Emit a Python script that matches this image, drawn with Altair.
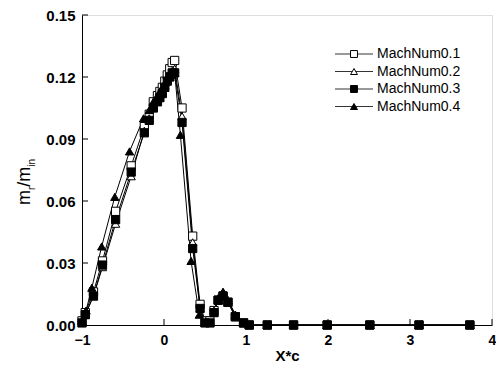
import altair as alt
import pandas as pd

series_names = ["MachNum0.1", "MachNum0.2", "MachNum0.3", "MachNum0.4"]

tail_x = [1.04, 1.26, 1.58, 1.99, 2.51, 3.11, 3.73]
tail_y = [0.0, 0.0, 0.0, 0.0, 0.0, 0.0, 0.0]

x_a = [-1.0, -0.96, -0.86, -0.75, -0.59, -0.40, -0.24, -0.18, -0.13, -0.08, -0.05, -0.02,
       0.01, 0.04, 0.07, 0.10, 0.13, 0.22, 0.35, 0.44, 0.50, 0.56, 0.61, 0.66, 0.72, 0.78,
       0.87, 0.97]
x_b = [-1.0, -0.95, -0.88, -0.76, -0.60, -0.42, -0.25, -0.18, -0.13, -0.08, -0.05, -0.02,
       0.01, 0.04, 0.07, 0.10, 0.13, 0.20, 0.33, 0.43, 0.50, 0.56, 0.61, 0.66, 0.72, 0.78,
       0.87, 0.97]

y1 = [0.002, 0.006, 0.016, 0.031, 0.055, 0.077, 0.096, 0.102, 0.108, 0.111, 0.113, 0.115,
      0.118, 0.121, 0.124, 0.127, 0.128, 0.105, 0.043, 0.010, 0.002, 0.002, 0.007, 0.012,
      0.014, 0.011, 0.004, 0.001]
y2 = [0.001, 0.005, 0.014, 0.028, 0.049, 0.072, 0.094, 0.100, 0.106, 0.110, 0.112, 0.114,
      0.116, 0.119, 0.121, 0.123, 0.124, 0.101, 0.040, 0.008, 0.001, 0.001, 0.007, 0.013,
      0.016, 0.012, 0.005, 0.001]
y3 = [0.001, 0.005, 0.014, 0.029, 0.051, 0.074, 0.093, 0.099, 0.105, 0.108, 0.110, 0.112,
      0.115, 0.118, 0.120, 0.122, 0.122, 0.098, 0.037, 0.008, 0.001, 0.001, 0.006, 0.012,
      0.014, 0.011, 0.004, 0.001]
y4 = [0.002, 0.007, 0.018, 0.038, 0.062, 0.084, 0.100, 0.104, 0.108, 0.111, 0.113, 0.115,
      0.117, 0.119, 0.120, 0.121, 0.122, 0.092, 0.031, 0.005, 0.001, 0.001, 0.006, 0.012,
      0.016, 0.012, 0.005, 0.001]

x_ticks = [-1, 0, 1, 2, 3, 4]
y_ticks = [0.0, 0.03, 0.06, 0.09, 0.12, 0.15]

shapes = ["square", "triangle-up", "square", "triangle-up"]
fills = ["white", "white", "black", "black"]

rows = []
for name, xs, ys in [(series_names[0], x_a, y1), (series_names[1], x_a, y2),
                     (series_names[2], x_a, y3), (series_names[3], x_b, y4)]:
    for xv, yv in zip(xs + tail_x, ys + tail_y):
        rows.append({"series": name, "x": xv, "y": yv})
df = pd.DataFrame(rows)

W, H = 410, 310
FONT = "Liberation Sans"

xscale = alt.Scale(domain=[-1, 4], nice=False, zero=False)
yscale = alt.Scale(domain=[0, 0.15], nice=False, zero=False)

xaxis = alt.Axis(values=x_ticks, format="d", ticks=False, grid=False, domain=True,
                 domainColor="black", domainWidth=1, labelFont=FONT, labelFontSize=14,
                 labelFontWeight="bold", labelColor="black", labelPadding=8, title="X*c",
                 titleFont=FONT, titleFontSize=15, titleFontWeight="bold", titleColor="black",
                 titlePadding=1, labelFlush=False, labelOverlap=False)
yaxis = alt.Axis(values=y_ticks, format=".2f", ticks=False, grid=False, domain=True,
                 domainColor="black", domainWidth=1, labelFont=FONT, labelFontSize=15,
                 labelFontWeight="bold", labelColor="black", labelPadding=7, title="",
                 labelFlush=False, labelOverlap=False)

base = alt.Chart(df)
lines = base.mark_line(color="black", strokeWidth=1).encode(
    x=alt.X("x:Q", scale=xscale, axis=xaxis),
    y=alt.Y("y:Q", scale=yscale, axis=yaxis),
    detail="series:N",
)
points = base.mark_point(filled=True, stroke="black", strokeWidth=1, opacity=1).encode(
    x=alt.X("x:Q", scale=xscale, axis=xaxis),
    y=alt.Y("y:Q", scale=yscale, axis=yaxis),
    shape=alt.Shape("series:N", scale=alt.Scale(domain=series_names, range=shapes), legend=None),
    fill=alt.Fill("series:N", scale=alt.Scale(domain=series_names, range=fills), legend=None),
    size=alt.value(68),
)

# inward ticks
yt = alt.Chart(pd.DataFrame({"y": y_ticks[1:]})).mark_rule(color="black", strokeWidth=1).encode(
    y=alt.Y("y:Q", scale=yscale, axis=yaxis), x=alt.value(0), x2=alt.value(6))
xt = alt.Chart(pd.DataFrame({"x": x_ticks[1:]})).mark_rule(color="black", strokeWidth=1).encode(
    x=alt.X("x:Q", scale=xscale, axis=xaxis), y=alt.value(H), y2=alt.value(H - 6))

# manual legend
leg_layers = []
leg_y0, leg_dy = 39, 17.5
for i, name in enumerate(series_names):
    ly = leg_y0 + i * leg_dy
    one = pd.DataFrame({"label": [name]})
    c = alt.Chart(one)
    leg_layers.append(c.mark_rule(color="#333333", strokeWidth=1).encode(
        x=alt.value(253), x2=alt.value(291), y=alt.value(ly)))
    leg_layers.append(c.mark_point(filled=True, stroke="black", strokeWidth=1, opacity=1,
                                   shape=shapes[i], fill=fills[i], size=48).encode(
        x=alt.value(272), y=alt.value(ly)))
    leg_layers.append(c.mark_text(align="left", baseline="middle", font=FONT, fontSize=14,
                                  color="black").encode(
        text="label:N", x=alt.value(295), y=alt.value(ly)))

# y title with subscripts: m_r/m_in
title_parts = [("m", 18, -52, 190), ("r", 10, -47, 175),
               ("/m", 18, -52, 171.7), ("in", 10, -47, 151.7)]
title_layers = []
for txt, fs, tx, ty in title_parts:
    title_layers.append(alt.Chart(pd.DataFrame({"t": [txt]})).mark_text(
        align="left", baseline="alphabetic", font=FONT, fontSize=fs,
        color="black").encode(text="t:N", x=alt.value(tx), y=alt.value(ty),
                              angle=alt.value(270)))

chart = alt.layer(lines, points, yt, xt, *leg_layers, *title_layers).properties(
    width=W, height=H,
    autosize=alt.AutoSizeParams(type="none"),
    padding={"left": 74, "top": 7, "right": 4, "bottom": 38},
).configure_view(stroke=None).configure(background="white")

chart.save("out.html", embed_options={"renderer": "svg", "actions": False})
